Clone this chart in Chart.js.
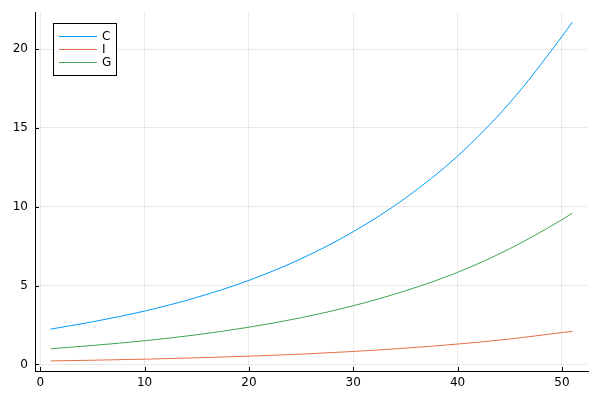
<!DOCTYPE html>
<html>
<head>
<meta charset="utf-8">
<script src="https://cdn.jsdelivr.net/npm/chart.js@4.4.1/dist/chart.umd.min.js"></script>
<style>
  html, body { margin: 0; padding: 0; background: #fff; }
  #wrap { width: 600px; height: 400px; }
</style>
</head>
<body>
<div id="wrap"><canvas id="growthChart"></canvas></div>
<script>
// values
const xs = [1, 5, 10, 15, 20, 25, 30, 35, 40, 45, 50, 51];
const seriesC = [2.24, 2.70, 3.38, 4.25, 5.33, 6.70, 8.42, 10.55, 13.22, 16.6, 20.8, 21.72];
const seriesI = [0.22, 0.265, 0.33, 0.415, 0.52, 0.65, 0.82, 1.03, 1.29, 1.61, 2.02, 2.10];
const seriesG = [0.99, 1.20, 1.50, 1.88, 2.36, 2.96, 3.72, 4.67, 5.84, 7.34, 9.18, 9.60];
const xTicks = [0, 10, 20, 30, 40, 50];
const yTicks = [0, 5, 10, 15, 20];

const FONT = "'DejaVu Sans', sans-serif";

function toPoints(values) {
  return xs.map((x, i) => ({ x: x, y: values[i] }));
}

// ticks pointing inward + legend box inside the plot (like Plots.jl)
const plotsStyle = {
  id: "plotsStyle",
  afterDraw(chart) {
    const c = chart.ctx;
    const area = chart.chartArea;
    const sx = chart.scales.x;
    const sy = chart.scales.y;
    c.save();
    c.strokeStyle = "#000";
    c.lineWidth = 1;
    c.beginPath();
    xTicks.forEach((t) => {
      const px = Math.round(sx.getPixelForValue(t)) + 0.5;
      c.moveTo(px, area.bottom);
      c.lineTo(px, area.bottom - 4);
    });
    yTicks.forEach((t) => {
      const py = Math.round(sy.getPixelForValue(t)) + 0.5;
      c.moveTo(area.left, py);
      c.lineTo(area.left + 4, py);
    });
    c.stroke();

    // legend
    c.fillStyle = "#fff";
    c.fillRect(53.5, 23.5, 63, 52);
    c.strokeStyle = "#000";
    c.strokeRect(53.5, 23.5, 63, 52);
    c.font = "12px " + FONT;
    c.textBaseline = "middle";
    chart.data.datasets.forEach((ds, i) => {
      const y = 36.5 + i * 13;
      c.strokeStyle = ds.borderColor;
      c.beginPath();
      c.moveTo(59, y);
      c.lineTo(97, y);
      c.stroke();
      c.fillStyle = "#000";
      c.fillText(ds.label, 102, y);
    });
    c.restore();
  },
};

var ctx = document.getElementById("growthChart").getContext("2d");
var growthChart = new Chart(ctx, {
  type: "line",
  data: {
    datasets: [
      { label: "C", data: toPoints(seriesC), borderColor: "#009AFA" },
      { label: "I", data: toPoints(seriesI), borderColor: "#E36F47" },
      { label: "G", data: toPoints(seriesG), borderColor: "#3EA44E" },
    ].map((d) =>
      Object.assign(d, {
        borderWidth: 1,
        pointRadius: 0,
        fill: false,
        cubicInterpolationMode: "monotone",
      })
    ),
  },
  options: {
    responsive: true,
    maintainAspectRatio: false,
    animation: false,
    layout: { padding: { top: 12, right: 12, left: 0, bottom: 0 } },
    plugins: { legend: { display: false }, tooltip: { enabled: false } },
    scales: {
      x: {
        type: "linear",
        min: -0.5,
        max: 52.5,
        afterBuildTicks: (scale) => {
          scale.ticks = xTicks.map((v) => ({ value: v }));
        },
        afterFit: (scale) => {
          scale.height = 29;
          scale.paddingRight = 0;
          scale.paddingLeft = 0;
        },
        grid: { color: "rgba(0,0,0,0.08)", drawTicks: false },
        border: { color: "#000", width: 1 },
        ticks: {
          color: "#000",
          padding: 5,
          font: { family: FONT, size: 12 },
        },
      },
      y: {
        type: "linear",
        min: -0.42,
        max: 22.36,
        afterBuildTicks: (scale) => {
          scale.ticks = yTicks.map((v) => ({ value: v }));
        },
        afterFit: (scale) => {
          scale.width = 35;
          scale.paddingTop = 0;
          scale.paddingBottom = 0;
        },
        grid: { color: "rgba(0,0,0,0.08)", drawTicks: false },
        border: { color: "#000", width: 1 },
        ticks: {
          color: "#000",
          padding: 7,
          font: { family: FONT, size: 12 },
        },
      },
    },
  },
  plugins: [plotsStyle],
});
</script>
</body>
</html>
